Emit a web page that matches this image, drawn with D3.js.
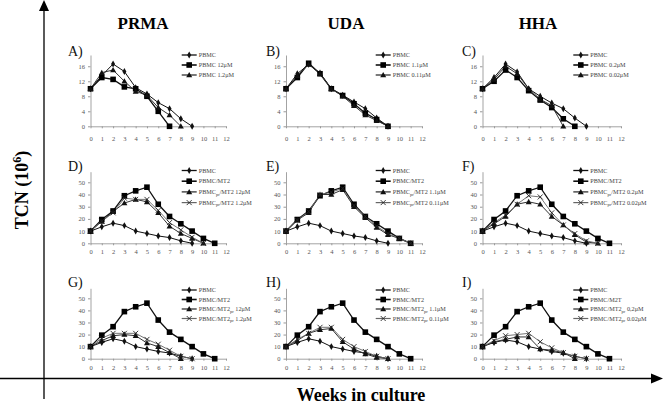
<!DOCTYPE html>
<html><head><meta charset="utf-8">
<script src="https://cdn.jsdelivr.net/npm/d3@7"></script>
<style>body{margin:0;background:#fff}svg{display:block}</style>
</head><body>
<svg id="c" width="664" height="406"></svg>
<script>
// ---- data ----
const weeks = d3.range(0, 13);
const columnTitles = ["PRMA", "UDA", "HHA"];
const panelLabels = ["A)", "B)", "C)", "D)", "E)", "F)", "G)", "H)", "I)"];
const yTicksTop = [0, 4, 8, 12, 16];
const yTicksLow = [0, 10, 20, 30, 40, 50];

const pbmcA = [10, 13.5, 16.6, 14.6, 10.3, 8.6, 6.3, 4.7, 2, 0];
const hiA = [10, 13, 12.5, 10.5, 10, 8, 4, 0];
const loA = [10, 14.3, 15, 12, 9.3, 8.3, 5, 3, 0];
const pbmcB = [10, 14, 16.5, 14.2, 10, 8.3, 6.5, 4.7, 2.2, 0];
const hiB = [10, 13, 16.8, 14, 10, 8.2, 6, 3.5, 1.8, 0];
const loB = [10, 13.5, 16.5, 14, 10, 8, 5.5, 3, 1.5, 0];
const pbmcC = [10, 13, 16.6, 14.5, 10, 8, 6.2, 4.7, 2.2, 0];
const hiC = [10, 12, 15, 13, 9.5, 7, 5, 2, 0];
const loC = [10, 12.5, 16, 14, 10, 7.2, 5.5, 0];

const pbmcLow = [10, 13.5, 16.5, 14.5, 10, 8, 6, 4.7, 2, 0];
const mt2 = [10, 19.5, 26.5, 39, 43, 46, 32, 22, 16, 10, 4, 0];
const hiD = [10, 18, 26, 33, 36, 34, 25, 14, 8, 4, 0];
const loD = [10, 18, 25, 37, 36, 36, 27, 17, 11, 5, 0];
const hiE = [10, 19, 25, 40, 40, 44, 30, 21, 13, 7, 4, 0];
const loE = [10, 19, 26, 40, 42, 45, 31, 22, 14, 8, 4, 0];
const hiF = [10, 16, 22, 32, 34, 32, 22, 15, 7, 1, 0];
const loF = [10, 17, 23, 32, 39, 38, 25, 15, 8, 2, 0];
const hiG = [10, 15, 19, 20, 19, 13, 10, 5, 0];
const loG = [10, 17, 21, 21, 21, 16, 12, 7, 2, 0];
const hiH = [10, 15, 21, 24, 25, 14, 8, 4, 1, 0];
const loH = [10, 16, 21, 26, 26, 16, 10, 6, 2, 0];
const pbmcI = [10, 13.5, 15.5, 14, 10, 8, 6, 4.5, 2, 0];
const hiI = [10, 14, 16, 18, 18, 8, 7, 5, 0];
const loI = [10, 15, 19, 20, 21, 14, 9, 5, 2, 0];

const legendA = ["PBMC", "PBMC 12\u03bcM", "PBMC 1.2\u03bcM"];
const legendB = ["PBMC", "PBMC 1.1\u03bcM", "PBMC 0.11\u03bcM"];
const legendC = ["PBMC", "PBMC 0.2\u03bcM", "PBMC 0.02\u03bcM"];
// [main, subscript, rest]
const legendD = [["PBMC","",""], ["PBMC/MT2","",""], ["PBMC","pr","/MT2 12\u03bcM"], ["PBMC","pr","/MT2 1.2\u03bcM"]];
const legendE = [["PBMC","",""], ["PBMC/MT2","",""], ["PBMC","pr","/MT2  1.1\u03bcM"], ["PBMC","pr","/MT2 0.11\u03bcM"]];
const legendF = [["PBMC","",""], ["PBMC/MT2","",""], ["PBMC","pr","/MT2  0.2\u03bcM"], ["PBMC","pr","/MT2  0.02\u03bcM"]];
const legendG = [["PBMC","",""], ["PBMC/MT2","",""], ["PBMC/MT2","pr"," 12\u03bcM"], ["PBMC/MT2","pr"," 1.2\u03bcM"]];
const legendH = [["PBMC","",""], ["PBMC/MT2","",""], ["PBMC/MT2","pr"," 1.1\u03bcM"], ["PBMC/MT2","pr"," 0.11\u03bcM"]];
const legendI = [["PBMC","",""], ["PBMC/M2T","",""], ["PBMC/MT2","pr"," 0,2\u03bcM"], ["PBMC/MT2","pr"," 0.02\u03bcM"]];

// ---- layout ----
const colX0 = [90.5, 286, 482.5], colX1 = [226, 422, 621];
const rowBase = [126.3, 243.3, 358.7], rowTop = [55, 171.7, 288.3], rowMax = [19, 58.7, 58.3];
const legX = [181.7, 375.7, 573.3], legY0 = [55, 170.5, 290], legDy = [10, 10.7, 9.5];
const labX = [68, 266, 462], labY = [56, 171, 287];
const tickLabOff = [9.6, 6.2, 6.2];

const panels = [
  {series: [pbmcA, hiA, loA], shapes: ["diamond","square","triangle"], legend: legendA.map(s=>[s,"",""])},
  {series: [pbmcB, hiB, loB], shapes: ["diamond","square","triangle"], legend: legendB.map(s=>[s,"",""])},
  {series: [pbmcC, hiC, loC], shapes: ["diamond","square","triangle"], legend: legendC.map(s=>[s,"",""])},
  {series: [pbmcLow, mt2, hiD, loD], shapes: ["diamond","square","triangle","x"], legend: legendD},
  {series: [pbmcLow, mt2, hiE, loE], shapes: ["diamond","square","triangle","x"], legend: legendE},
  {series: [pbmcLow, mt2, hiF, loF], shapes: ["diamond","square","triangle","x"], legend: legendF},
  {series: [pbmcLow, mt2, hiG, loG], shapes: ["diamond","square","triangle","x"], legend: legendG},
  {series: [pbmcLow, mt2, hiH, loH], shapes: ["diamond","square","triangle","x"], legend: legendH},
  {series: [pbmcI, mt2, hiI, loI], shapes: ["diamond","square","triangle","x"], legend: legendI}
];
const lineColor = {diamond: "#111", square: "#111", triangle: "#333", x: "#666"};
const lineWidth = {diamond: 1, square: 1.3, triangle: 1, x: 0.9};

const svg = d3.select("#c");
const serif = "'Liberation Serif','DejaVu Serif',serif";

function marker(g, shape, x, y) {
  if (shape === "diamond") {
    g.append("path").attr("d", d3.symbol(d3.symbolDiamond, 14)()).attr("transform", `translate(${x},${y})`).attr("fill", "#111");
  } else if (shape === "square") {
    g.append("rect").attr("x", x - 2.8).attr("y", y - 2.8).attr("width", 5.6).attr("height", 5.6).attr("fill", "#000");
  } else if (shape === "triangle") {
    g.append("path").attr("d", `M${x},${y-3}L${x+3},${y+2.3}L${x-3},${y+2.3}Z`).attr("fill", "#111");
  } else {
    g.append("path").attr("d", `M${x-2.5},${y-2.5}L${x+2.5},${y+2.5}M${x+2.5},${y-2.5}L${x-2.5},${y+2.5}`).attr("stroke", "#222").attr("stroke-width", 0.9).attr("fill", "none");
  }
}

panels.forEach((p, i) => {
  const c = i % 3, r = Math.floor(i / 3);
  const x = d3.scaleLinear().domain([0, 12]).range([colX0[c], colX1[c]]);
  const y = d3.scaleLinear().domain([0, rowMax[r]]).range([rowBase[r], rowTop[r]]);
  const g = svg.append("g");
  const ticks = r === 0 ? yTicksTop : yTicksLow;

  // y axis
  const ya = g.append("g").attr("transform", `translate(${colX0[c]},0)`)
    .call(d3.axisLeft(y).tickValues(ticks).tickSize(2.5).tickPadding(3).tickSizeOuter(0));
  // x axis
  const xa = g.append("g").attr("transform", `translate(0,${rowBase[r]})`)
    .call(d3.axisBottom(x).tickValues(weeks).tickSize(2).tickPadding(tickLabOff[r] - 2).tickSizeOuter(0));
  [ya, xa].forEach(a => {
    a.select(".domain").attr("stroke", "#999").attr("stroke-width", 0.9);
    a.selectAll(".tick line").attr("stroke", "#999");
    a.selectAll("text").attr("font-family", serif).attr("font-size", 6.5).attr("fill", "#555");
  });

  // series
  p.series.forEach((s, k) => {
    const sh = p.shapes[k];
    g.append("path").datum(s)
      .attr("d", d3.line().x((d, j) => x(j)).y(d => y(d)))
      .attr("fill", "none").attr("stroke", lineColor[sh]).attr("stroke-width", lineWidth[sh]);
  });
  p.series.forEach((s, k) => {
    const sh = p.shapes[k];
    s.forEach((d, j) => marker(g, sh, x(j), y(d)));
  });

  // legend
  p.legend.forEach((t, k) => {
    const sh = p.shapes[k];
    const ly = legY0[r] + k * legDy[r];
    g.append("line").attr("x1", legX[c]).attr("x2", legX[c] + 15).attr("y1", ly).attr("y2", ly)
      .attr("stroke", lineColor[sh]).attr("stroke-width", lineWidth[sh] + 0.3);
    marker(g, sh, legX[c] + 7.5, ly);
    const tx = g.append("text").attr("x", legX[c] + 17).attr("y", ly + 2.2)
      .attr("font-family", serif).attr("font-size", 6.2).attr("fill", "#444");
    tx.append("tspan").text(t[0]);
    if (t[1]) {
      tx.append("tspan").attr("dy", 1.5).attr("font-size", 4.5).text(t[1]);
      tx.append("tspan").attr("dy", -1.5).text(t[2]);
    }
  });

  // panel label
  svg.append("text").attr("x", labX[c]).attr("y", labY[r]).attr("font-family", serif)
    .attr("font-size", 14).attr("fill", "#111").text(panelLabels[i]);
});

// column titles
const titleX = [143, 346, 538];
columnTitles.forEach((t, i) => {
  svg.append("text").attr("x", titleX[i]).attr("y", 29).attr("text-anchor", "middle")
    .attr("font-family", serif).attr("font-weight", "bold").attr("font-size", 17).text(t);
});

// big axes with arrows
svg.append("line").attr("x1", 44).attr("x2", 44).attr("y1", 8).attr("y2", 399).attr("stroke", "#000").attr("stroke-width", 1.3);
svg.append("path").attr("d", "M44,0L49,11L39,11Z").attr("fill", "#000");
svg.append("line").attr("x1", 0).attr("x2", 654).attr("y1", 378.5).attr("y2", 378.5).attr("stroke", "#000").attr("stroke-width", 1.3);
svg.append("path").attr("d", "M663,378.5L651,373.5L651,383.5Z").attr("fill", "#000");

// axis titles
const yt = svg.append("text").attr("transform", "translate(28,190) rotate(-90)").attr("text-anchor", "middle")
  .attr("font-family", serif).attr("font-weight", "bold").attr("font-size", 18);
yt.append("tspan").text("TCN (10");
yt.append("tspan").attr("dy", -7).attr("font-size", 12).text("6");
yt.append("tspan").attr("dy", 7).text(")");

svg.append("text").attr("x", 361).attr("y", 401).attr("text-anchor", "middle")
  .attr("font-family", serif).attr("font-weight", "bold").attr("font-size", 18).text("Weeks in culture");
</script>
</body></html>
